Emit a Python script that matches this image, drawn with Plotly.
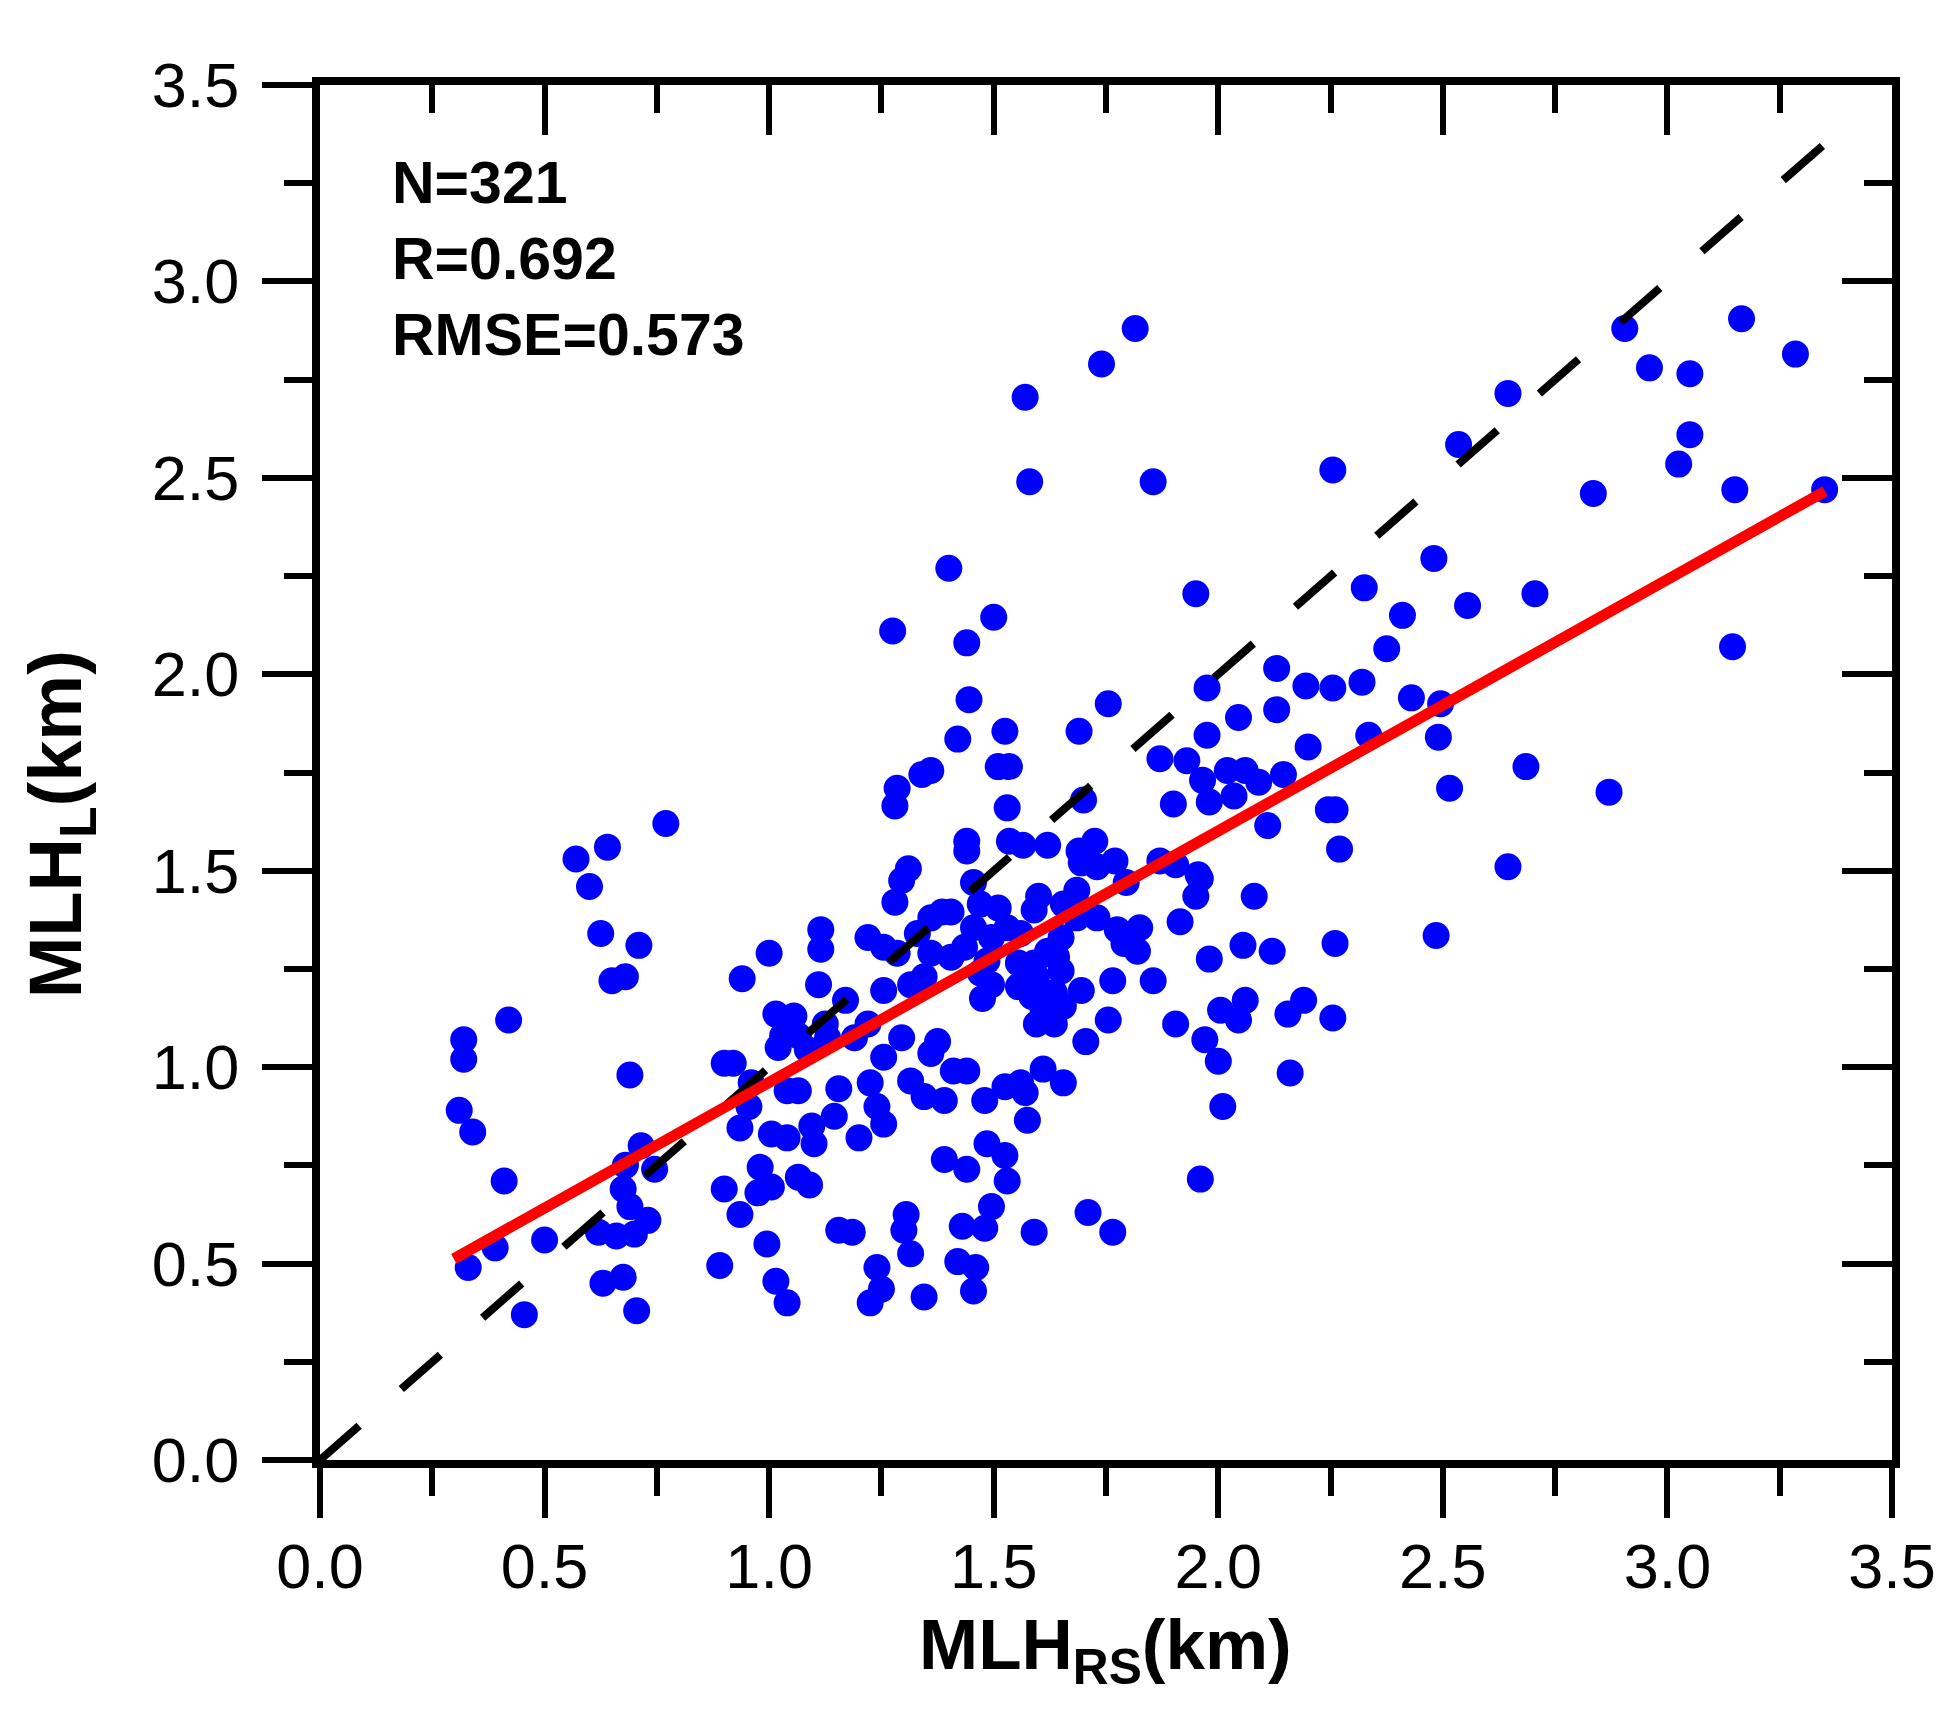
import plotly.graph_objects as go

# MLH_RS (x, km) and MLH_L (y, km)
mlh_rs = [
    0.77, 0.64, 0.57, 0.60, 0.625, 0.71, 0.65, 0.68, 0.42, 0.32, 0.32, 0.69, 0.31, 0.34, 0.41, 0.715,
    0.68, 0.745, 0.675, 0.69, 0.73, 0.62, 0.66, 0.70, 0.50, 0.39, 0.33, 0.63, 0.675, 0.455, 0.705,
    1.31, 1.295, 1.28, 1.455, 1.44, 1.385, 1.405, 1.36, 1.33, 1.22, 1.255, 1.285, 1.36, 1.405, 1.435,
    1.345, 1.315, 1.47, 1.475, 1.115, 1.115, 1.00, 0.94, 1.11, 1.17, 1.255, 1.015, 1.055, 1.03, 1.065,
    1.02, 1.125, 1.13, 1.085, 1.19, 1.22, 1.295, 1.255, 1.375, 1.36, 1.41, 1.44, 0.90, 0.92, 0.96,
    0.955, 1.04, 1.065, 1.155, 1.225, 1.24, 1.255, 1.315, 1.345, 1.39, 0.935, 1.005, 1.04, 1.095, 1.10,
    1.145, 1.20, 1.48, 1.485, 1.39, 1.44, 0.98, 1.005, 0.975, 0.90, 0.935, 1.065, 1.09, 0.995, 0.89,
    1.015, 1.04, 1.155, 1.185, 1.305, 1.30, 1.315, 1.24, 1.25, 1.225, 1.345, 1.43, 1.495, 1.48, 1.42,
    1.46, 1.455, 1.47, 1.455, 1.495, 1.485, 1.495,
    1.40, 1.275, 1.44, 1.50, 1.445, 1.42, 1.34, 1.36, 1.285, 1.28, 1.44,
    1.815, 1.74, 1.57,
    1.58, 1.855, 1.95, 2.13, 1.975, 1.755, 2.045, 2.13, 1.975, 1.69, 1.525, 1.535, 1.51, 1.53, 1.87,
    1.93, 1.965, 2.02, 2.06, 2.09, 2.035, 1.98, 2.145, 1.90, 2.11, 1.70, 1.535, 1.565, 1.62, 1.69,
    1.725, 1.77, 1.695, 1.73, 1.87, 1.905, 1.955,
    2.08, 1.96, 1.95, 2.055, 2.12, 1.915, 1.98, 1.775, 1.825, 1.82, 1.79, 1.73, 1.795, 1.765, 1.855,
    1.755, 1.705, 1.905, 2.005, 2.06, 2.045, 1.97, 2.00, 2.155, 2.16, 2.01, 1.96, 1.71, 1.765, 1.59,
    1.575, 1.655, 1.61, 1.56, 1.57, 1.525, 1.525, 1.53, 1.60, 1.59, 1.51, 1.685, 1.655, 1.685, 1.65,
    1.62, 1.59, 1.64, 1.65, 1.595, 1.555, 1.585, 1.635, 1.695, 1.61, 1.655, 1.595, 1.635, 1.555, 1.53,
    1.56,
    3.165, 3.285, 2.905, 2.96, 3.05, 2.645, 3.05, 3.025, 2.535, 2.255, 2.835, 3.15, 3.35, 2.48, 2.325,
    2.705, 2.555, 2.41, 2.375, 3.145, 2.195, 2.255, 2.32, 2.43, 2.495, 2.20, 2.335, 2.49, 2.685, 2.515,
    2.87,
    2.245, 2.26, 2.27, 2.645, 2.26, 2.485, 2.19, 2.255,
]
mlh_l = [
    1.62, 1.56, 1.53, 1.46, 1.34, 1.31, 1.22, 1.23, 1.12, 1.07, 1.02, 0.98, 0.89, 0.835, 0.71, 0.80,
    0.75, 0.74, 0.69, 0.645, 0.61, 0.58, 0.57, 0.575, 0.56, 0.54, 0.49, 0.45, 0.465, 0.37, 0.38,
    1.505, 1.475, 1.42, 1.47, 1.55, 1.395, 1.395, 1.38, 1.34, 1.33, 1.305, 1.29, 1.29, 1.28, 1.305,
    1.23, 1.21, 1.24, 1.175, 1.35, 1.30, 1.29, 1.225, 1.21, 1.17, 1.195, 1.135, 1.13, 1.08, 1.08,
    1.05, 1.11, 1.075, 1.045, 1.075, 1.11, 1.075, 1.025, 1.065, 1.035, 0.99, 0.99, 1.01, 1.01, 0.96,
    0.90, 0.94, 0.94, 0.945, 0.96, 0.90, 0.855, 0.965, 0.925, 0.915, 0.845, 0.83, 0.82, 0.85, 0.805,
    0.875, 0.82, 0.915, 0.805, 0.765, 0.74, 0.745, 0.695, 0.68, 0.69, 0.625, 0.72, 0.70, 0.55, 0.495,
    0.455, 0.40, 0.585, 0.58, 0.625, 0.585, 0.525, 0.49, 0.435, 0.40, 0.415, 0.595, 0.645, 0.59, 0.505,
    0.49, 0.43, 1.415, 1.355, 1.33, 1.27, 1.21,
    2.27, 2.11, 2.08, 2.145, 1.935, 1.835, 1.745, 1.755, 1.71, 1.665, 1.575,
    2.88, 2.79, 2.705,
    2.49, 2.49, 2.205, 2.015, 1.965, 1.925, 1.89, 1.91, 1.845, 1.855, 1.855, 1.765, 1.765, 1.66, 1.785,
    1.78, 1.73, 1.755, 1.755, 1.725, 1.69, 1.675, 1.745, 1.67, 1.615, 1.68, 1.575, 1.565, 1.565, 1.55,
    1.575, 1.525, 1.52, 1.51, 1.525, 1.515, 1.49,
    1.435, 1.48, 1.435, 1.31, 1.295, 1.37, 1.275, 1.35, 1.355, 1.295, 1.315, 1.38, 1.47, 1.22, 1.22,
    1.12, 1.065, 1.11, 1.145, 1.17, 1.12, 1.07, 1.015, 1.135, 0.985, 0.90, 0.715, 0.63, 0.58, 0.58,
    0.865, 0.96, 0.995, 0.96, 0.935, 0.95, 0.775, 0.71, 1.435, 1.40, 1.405, 1.45, 1.415, 1.38, 1.33,
    1.295, 1.265, 1.28, 1.245, 1.23, 1.205, 1.18, 1.19, 1.195, 1.145, 1.155, 1.11, 1.11, 1.265, 1.355,
    1.34,
    2.905, 2.815, 2.88, 2.78, 2.765, 2.715, 2.61, 2.535, 2.585, 2.52, 2.46, 2.47, 2.47, 2.295, 2.22,
    2.205, 2.175, 2.15, 2.065, 2.07, 1.97, 1.965, 1.98, 1.94, 1.925, 1.815, 1.845, 1.84, 1.765, 1.71,
    1.70,
    1.655, 1.655, 1.555, 1.51, 1.315, 1.335, 1.17, 1.125,
]

# 1:1 reference line and linear fit line endpoints
diag_x = [0.0, 3.36]
diag_y = [0.0, 3.36]
fit_x = [0.298, 3.351]
fit_y = [0.512, 2.466]

stats_lines = ["N=321", "R=0.692", "RMSE=0.573"]
ticks = [0.0, 0.5, 1.0, 1.5, 2.0, 2.5, 3.0, 3.5]
tick_text = ["0.0", "0.5", "1.0", "1.5", "2.0", "2.5", "3.0", "3.5"]

FONT = "Liberation Sans, Arial, sans-serif"

fig = go.Figure()
fig.add_trace(go.Scatter(x=mlh_rs, y=mlh_l, mode="markers",
                         marker=dict(size=27, color="#0000FF", line=dict(width=0)),
                         showlegend=False))
fig.add_trace(go.Scatter(x=diag_x, y=diag_y, mode="lines",
                         line=dict(color="black", width=8, dash="52px,56px"),
                         showlegend=False))
fig.add_trace(go.Scatter(x=fit_x, y=fit_y, mode="lines",
                         line=dict(color="#FF0000", width=11), showlegend=False))
# invisible trace to activate mirrored axes
fig.add_trace(go.Scatter(x=[1], y=[1], xaxis="x2", yaxis="y2", mode="markers",
                         marker=dict(opacity=0), hoverinfo="skip", showlegend=False))

def axis(side_ticks, show_labels, standoff=0):
    return dict(range=[0, 3.5], tickvals=ticks, ticktext=tick_text, showgrid=False,
                zeroline=False, showline=True, linecolor="black", linewidth=8,
                ticks=side_ticks, ticklen=50, tickwidth=6, tickcolor="black",
                minor=dict(tickvals=[0.25, 0.75, 1.25, 1.75, 2.25, 2.75, 3.25],
                           ticks=side_ticks, ticklen=28, tickwidth=6, tickcolor="black"),
                showticklabels=show_labels, ticklabelstandoff=standoff,
                tickfont=dict(family=FONT, size=63, color="black"),
                fixedrange=True)

xa = axis("outside", True, -6)
ya = axis("outside", True, 10)
xa2 = axis("inside", False)
xa2.update(overlaying="x", side="top", anchor="y")
ya2 = axis("inside", False)
ya2.update(overlaying="y", side="right", anchor="x")

annotations = []
for txt, yy in zip(stats_lines, [0.9287, 0.8738, 0.818]):
    annotations.append(dict(text="<b>%s</b>" % txt, x=0.0446, y=yy, xref="paper", yref="paper",
                            xanchor="left", yanchor="middle", showarrow=False,
                            font=dict(family=FONT, size=59, color="black")))
annotations.append(dict(text="<b>MLH<sub>RS</sub>(km)</b>", x=0.4997, y=-0.138,
                        xref="paper", yref="paper", xanchor="center", yanchor="middle",
                        showarrow=False, font=dict(family=FONT, size=71, color="black")))
annotations.append(dict(text="<b>MLH<sub>L</sub>(km)</b>", x=-0.165, y=0.462,
                        xref="paper", yref="paper", xanchor="center", yanchor="middle",
                        textangle=-90, showarrow=False,
                        font=dict(family=FONT, size=74, color="black")))

fig.update_layout(width=1948, height=1732,
                  margin=dict(l=320, r=51, t=85, b=272),
                  paper_bgcolor="white", plot_bgcolor="white",
                  xaxis=xa, yaxis=ya, xaxis2=xa2, yaxis2=ya2,
                  annotations=annotations, showlegend=False)

fig.write_html("out.html", config={"displayModeBar": False},
               post_script="document.body.style.margin='0px';")
